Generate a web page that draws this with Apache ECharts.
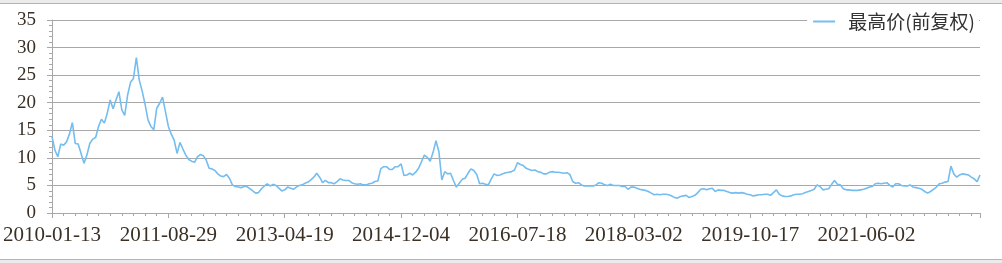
<!DOCTYPE html>
<html>
<head>
<meta charset="utf-8">
<script src="https://cdn.jsdelivr.net/npm/echarts@6/dist/echarts.min.js"></script>
<style>
  html, body { margin: 0; padding: 0; }
  body {
    width: 1002px; height: 263px; overflow: hidden;
    background: linear-gradient(to bottom, #ebebeb 0px, #ebebeb 3px, #b4b4b4 3px, #b4b4b4 4px,
      #ffffff 4px, #ffffff 259px, #b4b4b4 259px, #b4b4b4 260px, #ebebeb 260px, #ebebeb 263px);
  }
  #chart { position: absolute; left: 0; top: 0; width: 1002px; height: 263px; }
</style>
</head>
<body>
<div id="chart"></div>
<script>
// Labelled dates on the x axis (one every 40 samples)
const labelDates = ['2010-01-13', '2011-08-29', '2013-04-19', '2014-12-04',
                    '2016-07-18', '2018-03-02', '2019-10-17', '2021-06-02'];
const samplesPerLabel = 40;
const seriesName = '最高价(前复权)';

// 最高价(前复权), one value per sample (~every 10 trading days)
const highPrice = [
  13.9, 11.4, 10.2, 12.5, 12.3, 12.9, 14.3, 16.4, 12.6, 12.5,
  10.8, 9.0, 10.5, 12.6, 13.4, 13.7, 15.7, 17.0, 16.3, 18.1,
  20.5, 18.9, 20.5, 22.0, 18.7, 17.7, 21.4, 23.7, 24.4, 28.2,
  24.1, 22.1, 19.7, 16.9, 15.7, 15.1, 19.0, 19.9, 21.0, 18.4,
  15.7, 14.3, 13.2, 10.8, 12.8, 11.6, 10.5, 9.7, 9.4, 9.2,
  10.2, 10.6, 10.4, 9.6, 8.1, 8.0, 7.7,
  7.1, 6.7, 6.6, 7.0, 6.3, 5.1, 4.8, 4.7, 4.6, 4.8,
  4.8, 4.4, 4.0, 3.6, 3.7, 4.4, 4.9, 5.3, 4.9, 5.2,
  5.0, 4.5, 4.0, 4.2, 4.7, 4.5, 4.3, 4.7, 5.0, 5.1,
  5.4, 5.6, 6.0, 6.5, 7.2, 6.5, 5.5, 5.9, 5.5, 5.5,
  5.3, 5.7, 6.2, 6.0, 5.9, 5.9, 5.5, 5.3, 5.2, 5.3,
  5.1, 5.1, 5.3, 5.4,
  5.7, 5.8, 8.0, 8.4, 8.4, 7.9, 7.9, 8.4, 8.4, 8.9,
  6.8, 6.9, 7.2, 6.9, 7.4, 8.1, 9.3, 10.5, 10.1, 9.4,
  11.0, 13.1, 11.1, 6.0, 7.5, 7.1, 7.2, 5.9, 4.7, 5.4,
  6.1, 6.3, 7.2, 8.0, 7.7, 7.0, 5.3, 5.4, 5.2, 5.1,
  6.2, 7.1, 6.8, 6.9, 7.1, 7.3, 7.4, 7.5, 7.8, 9.1,
  8.8, 8.6, 8.1, 7.9, 7.7, 7.8, 7.5, 7.4, 7.1, 7.1,
  7.4, 7.5, 7.4, 7.4, 7.3, 7.2, 7.3, 7.0, 5.7, 5.4,
  5.5, 5.1, 4.9, 4.9, 4.9, 4.9, 5.1, 5.5, 5.4, 5.1,
  5.0, 5.2, 5.0, 5.0, 5.0, 4.8, 4.8, 4.3, 4.7, 4.7,
  4.5, 4.3, 4.2, 4.1, 3.9, 3.6, 3.3, 3.4, 3.3, 3.4,
  3.4, 3.3, 3.1, 2.8, 2.7, 3.0, 3.1, 3.2, 2.8,
  3.0, 3.2, 3.7, 4.3, 4.4, 4.2, 4.4, 4.5, 3.9, 4.2,
  4.1, 4.1, 3.9, 3.7, 3.6, 3.7, 3.6, 3.7, 3.6, 3.4,
  3.3, 3.1, 3.2, 3.3, 3.3, 3.4, 3.4, 3.2, 3.7, 4.2,
  3.4, 3.1, 3.0, 3.0, 3.1, 3.3, 3.4, 3.4, 3.5, 3.7,
  3.9, 4.1, 4.3, 5.1, 4.8, 4.2, 4.3, 4.4, 5.2, 5.9,
  5.2, 5.1, 4.4, 4.2, 4.2, 4.1, 4.1, 4.1, 4.2, 4.3,
  4.5, 4.7, 4.8, 5.3, 5.4, 5.3, 5.4, 5.5, 5.0, 4.7,
  5.3, 5.3, 5.0, 4.9, 4.9, 5.1, 4.7, 4.6, 4.5, 4.3,
  3.9, 3.6, 3.9, 4.3, 4.7, 5.3, 5.4, 5.6, 5.7, 8.5,
  7.1, 6.5, 6.9, 7.1, 7.0, 6.9, 6.5, 6.2, 5.7, 6.9
];

// Sample dates: the labelled dates, with the samples between them spread evenly
function buildDates(anchors, per, count) {
  const t = anchors.map(d => Date.parse(d + 'T00:00:00Z'));
  const out = [];
  for (let i = 0; i < count; i++) {
    const k = Math.min(Math.floor(i / per), t.length - 1);
    const span = k + 1 < t.length ? (t[k + 1] - t[k]) : (t[k] - t[k - 1]);
    const ms = t[k] + span * (i - k * per) / per;
    out.push(new Date(Math.round(ms / 86400000) * 86400000).toISOString().slice(0, 10));
  }
  return out;
}
const dates = buildDates(labelDates, samplesPerLabel, highPrice.length);

const gridGray = '#a8a8a8';
const textColor = '#3a3026';

const chart = echarts.init(document.getElementById('chart'), null, { renderer: 'canvas' });
chart.setOption({
  animation: false,
  backgroundColor: 'transparent',
  grid: { left: 49, right: 22, top: 20, bottom: 50, containLabel: false },
  legend: {
    right: 23, top: 9,
    backgroundColor: '#ffffff',
    padding: [3, 4, 3, 6],
    icon: 'rect', itemWidth: 22, itemHeight: 2,
    textStyle: { color: '#333', fontFamily: 'Noto Sans CJK SC', fontSize: 19, padding: [0, 0, 0, 8] },
    data: [seriesName]
  },
  xAxis: [
    {
      type: 'category', data: dates, boundaryGap: false,
      axisLine: { lineStyle: { color: gridGray, width: 1 } },
      axisTick: { interval: 3, length: 3, lineStyle: { color: gridGray } },
      axisLabel: { show: false },
      splitLine: { show: false }
    },
    {
      type: 'category', data: dates, boundaryGap: false, position: 'bottom',
      axisLine: { show: false },
      axisTick: {
        interval: (idx) => idx % samplesPerLabel === 0 || idx === dates.length - 1,
        length: 5, lineStyle: { color: gridGray }
      },
      axisLabel: {
        interval: (idx) => idx % samplesPerLabel === 0,
        margin: 12, color: textColor, fontFamily: 'Liberation Serif', fontSize: 21
      },
      splitLine: { show: false }
    }
  ],
  yAxis: {
    type: 'value', min: 0, max: 35, interval: 5,
    axisLine: { show: true, lineStyle: { color: gridGray } },
    axisTick: { show: true, length: 5, lineStyle: { color: gridGray } },
    minorTick: { show: true, splitNumber: 5, length: 3, lineStyle: { color: gridGray } },
    axisLabel: { margin: 16, color: textColor, fontFamily: 'Liberation Serif', fontSize: 19 },
    splitLine: { show: true, lineStyle: { color: gridGray, width: 1 } }
  },
  series: [{
    name: seriesName, type: 'line', xAxisIndex: 0, data: highPrice,
    showSymbol: false, symbol: 'none',
    lineStyle: { color: '#74bdf0', width: 1.6 },
    itemStyle: { color: '#74bdf0' }
  }]
});
</script>
</body>
</html>
